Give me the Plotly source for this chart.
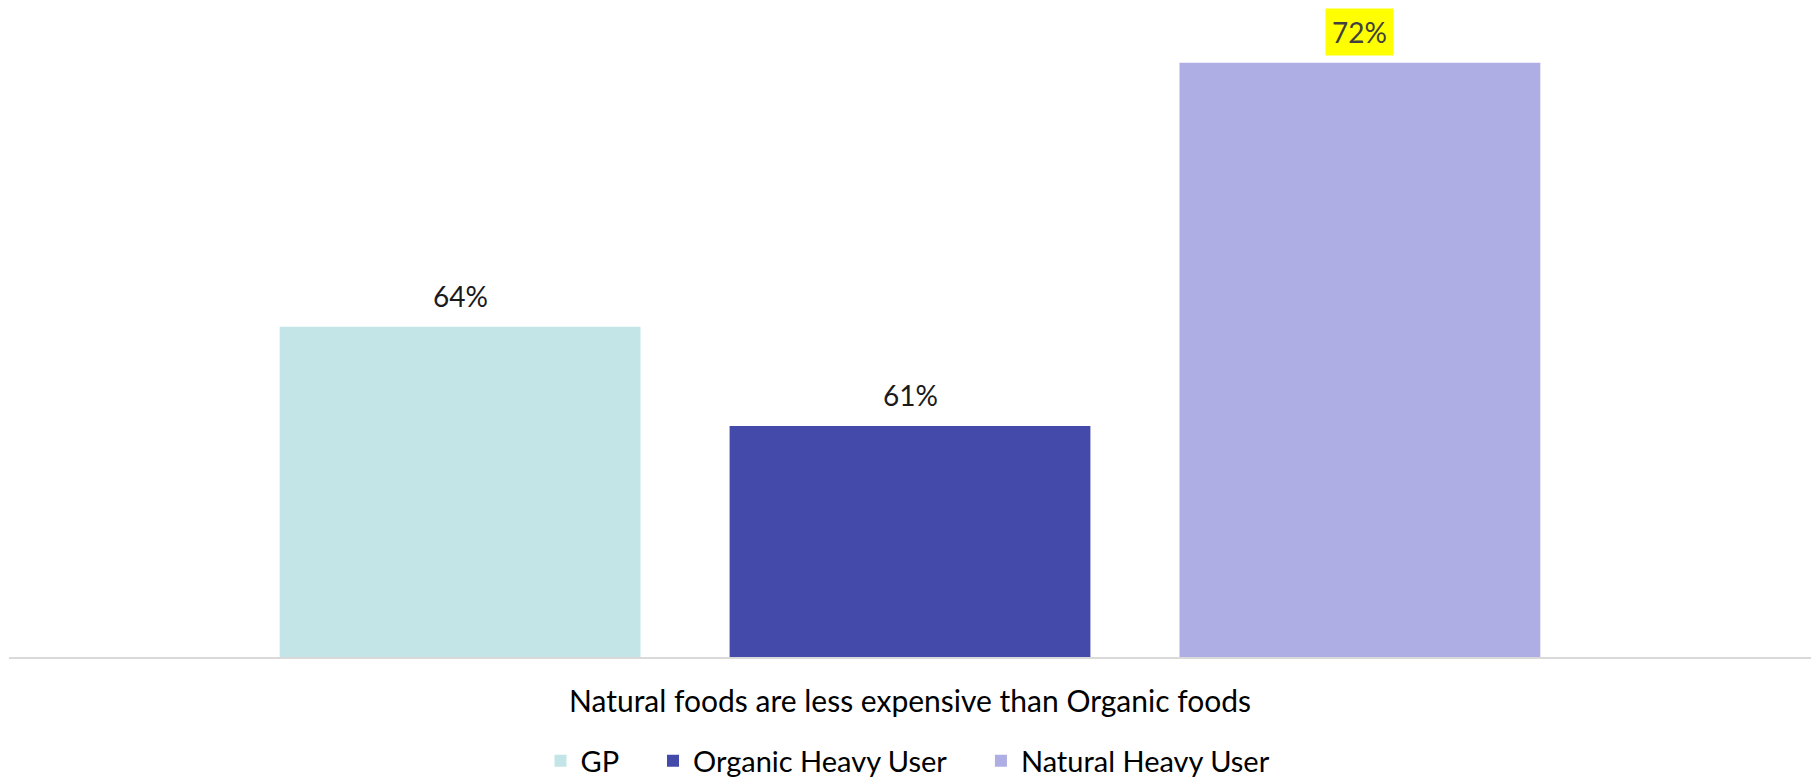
import plotly.graph_objects as go

# Survey statement and share of respondents agreeing, by segment
category = "Natural foods are less expensive than Organic foods"
segments = ["GP", "Organic Heavy User", "Natural Heavy User"]
values = [64, 61, 72]
colors = ["#C4E5E7", "#444AAA", "#AEAEE5"]
highlight = [False, False, True]

FONT = "Lato"
W, H = 1816, 782
margin = dict(l=9, r=5, t=0, b=125)
bargap, bargroupgap = 0.251, 0.198
ITEM_PAD = "\u00a0" * 4  # extra room between legend entries

fig = go.Figure()
for i, (seg, val, col) in enumerate(zip(segments, values, colors)):
    fig.add_trace(go.Bar(
        name=seg + (ITEM_PAD if i < len(segments) - 1 else ""),
        x=[category], y=[val],
        marker=dict(color=col, line=dict(width=0)),
        hoverinfo="skip",
    ))

# value labels centred over each bar of the group
plot_w = W - margin["l"] - margin["r"]
slot = plot_w * (1 - bargap) / len(segments)
for i, (val, hi) in enumerate(zip(values, highlight)):
    fig.add_annotation(
        x=category, y=val, xref="x", yref="y",
        xshift=(i - (len(segments) - 1) / 2) * slot,
        yshift=31, yanchor="middle", showarrow=False,
        text=f"{val}%",
        font=dict(family=FONT, size=28, color="#404040" if hi else "#1A1A1A"),
        bgcolor="#FFFF00" if hi else "rgba(0,0,0,0)",
        borderpad=6 if hi else 0,
    )

fig.update_layout(
    width=W, height=H,
    margin=margin,
    paper_bgcolor="white", plot_bgcolor="white",
    barmode="group", bargap=bargap, bargroupgap=bargroupgap,
    showlegend=True,
    legend=dict(
        orientation="h", xref="container", yref="container",
        x=0.5, xanchor="center", y=0.027, yanchor="middle",
        font=dict(family=FONT, size=29, color="#000000"),
        itemclick=False, itemdoubleclick=False,
    ),
    font=dict(family=FONT),
)
fig.update_xaxes(
    type="category", range=[-0.5, 0.5],
    showline=True, linecolor="#D9D9D9", linewidth=2,
    showgrid=False, ticks="", ticklabelstandoff=17,
    tickfont=dict(family=FONT, size=30, color="#000000"),
)
fig.update_yaxes(
    range=[54, 73.9], visible=False, showgrid=False, zeroline=False,
)

fig.write_html("out.html")
